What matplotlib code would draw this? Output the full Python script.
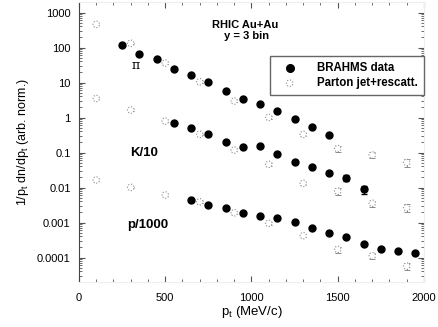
import matplotlib
matplotlib.use("Agg")
import matplotlib.pyplot as plt
from matplotlib.ticker import LogLocator, FixedLocator, NullFormatter, MultipleLocator
import numpy as np

plt.rcParams['font.family'] = ['Liberation Sans', 'DejaVu Sans']
plt.rcParams['mathtext.fontset'] = 'custom'
plt.rcParams['mathtext.rm'] = 'Liberation Sans'

# BRAHMS data (filled)
pt_pi_b = [250, 350, 450, 550, 650, 750, 850, 950, 1050, 1150, 1250, 1350, 1450]
pi_b = [115, 64, 47, 24, 16, 10.5, 5.8, 3.4, 2.4, 1.56, 0.92, 0.54, 0.31]

pt_k_b = [550, 650, 750, 850, 950, 1050, 1150, 1250, 1350, 1450, 1550, 1650]
k_b = [0.68, 0.49, 0.33, 0.20, 0.147, 0.156, 0.091, 0.055, 0.038, 0.0265, 0.019, 0.0089]
k_b_relerr = [0, 0, 0, 0, 0, 0, 0, 0, 0, 0.05, 0.2, 0.25]

pt_p_b = [650, 750, 850, 950, 1050, 1150, 1250, 1350, 1450, 1550, 1650, 1750, 1850, 1950]
p_b = [0.0044, 0.00316, 0.00255, 0.00183, 0.00153, 0.00132, 0.00101, 0.00068,
       0.0005, 0.00038, 0.00024, 0.000178, 0.000150, 0.000134]

# Parton jet + rescattering (open)
pt_m = [100, 300, 500, 700, 900, 1100, 1300, 1500, 1700, 1900]
pi_m = [460, 132, 36, 10.5, 2.96, 1.01, 0.33, 0.13, 0.085, 0.052]
k_m = [3.5, 1.64, 0.79, 0.33, 0.118, 0.046, 0.0132, 0.0079, 0.00355, 0.00265]
p_m = [0.0164, 0.0101, 0.0061, 0.0039, 0.0019, 0.00095, 0.00042, 0.000171, 0.000112, 0.000057]
m_relerr = [0.04, 0.04, 0.04, 0.05, 0.06, 0.08, 0.1, 0.2, 0.2, 0.25]

fig = plt.figure(figsize=(4.39, 3.27), dpi=100)
ax = fig.add_axes([79/439, 1-282/327, 345/439, 280/327])
ax.set_yscale('log')
ax.set_xlim(0, 2000)
ax.set_ylim(2e-5, 2000)

gray = '#8a8a8a'
for pts, vals in [(pt_m, pi_m), (pt_m, k_m), (pt_m, p_m)]:
    v = np.array(vals)
    e = v * np.array(m_relerr)
    ax.errorbar(pts, v, yerr=e, fmt='none', ecolor=gray, elinewidth=0.7,
                capsize=2, capthick=0.7, zorder=2)
    ax.scatter(pts, v, s=22, facecolors='white', edgecolors=gray,
               linewidths=0.8, linestyles=':', zorder=3)

ax.plot(pt_pi_b, pi_b, 'o', color='black', ms=5, zorder=4)
kb = np.array(k_b)
ax.errorbar(pt_k_b, kb, yerr=kb*np.array(k_b_relerr), fmt='o', color='black',
            ms=5, elinewidth=0.8, capsize=2, zorder=4)
ax.plot(pt_p_b, p_b, 'o', color='black', ms=5, zorder=4)

# legend handles
h1 = ax.scatter([], [], s=30, color='black')
h2 = ax.scatter([], [], s=22, facecolors='white', edgecolors=gray,
                linewidths=0.8, linestyles=':')
leg = ax.legend([h1, h2], ['BRAHMS data', 'Parton jet+rescatt.'],
                loc='upper right', bbox_to_anchor=(1.0, 0.807),
                borderaxespad=0, fancybox=False, framealpha=1,
                edgecolor='#666666', handletextpad=1.2, borderpad=0.5,
                handlelength=2.4, labelspacing=0.3,
                prop={'weight': 'bold', 'size': 8.3})
leg.get_frame().set_linewidth(1.0)

ax.text(0.482, 0.917, 'RHIC Au+Au', transform=ax.transAxes, ha='center',
        va='center', fontsize=8, fontweight='bold')
ax.text(0.485, 0.878, 'y = 3 bin', transform=ax.transAxes, ha='center',
        va='center', fontsize=8, fontweight='bold')
ax.text(330, 30, 'π', ha='center', va='center', fontsize=9,
        family=['DejaVu Serif'])
ax.text(380, 0.1, 'K/10', ha='center', va='center', fontsize=9.5,
        fontweight='bold')
ax.text(400, 0.00085, 'p/1000', ha='center', va='center', fontsize=9.5,
        fontweight='bold')

ax.set_xlabel(r'p$_\mathregular{t}$ (MeV/c)', fontsize=9.5, labelpad=1)
ax.set_ylabel(r'1/p$_\mathregular{t}$ dn/dp$_\mathregular{t}$ (arb. norm.)',
              fontsize=9, labelpad=4)

ax.xaxis.set_major_locator(MultipleLocator(500))
ax.xaxis.set_minor_locator(MultipleLocator(100))
ax.yaxis.set_major_locator(FixedLocator([1e-4, 1e-3, 1e-2, 1e-1, 1, 10, 100, 1000]))
ax.yaxis.set_minor_locator(LogLocator(base=10, subs=np.arange(2, 10), numticks=20))
ax.yaxis.set_minor_formatter(NullFormatter())
ax.set_yticklabels(['0.0001', '0.001', '0.01', '0.1', '1', '10', '100', '1000'])
ax.tick_params(which='both', direction='in', top=True, right=True,
               colors='#555555', labelcolor='black', labelsize=8)
ax.tick_params(which='major', length=4, width=0.8, pad=6)
ax.tick_params(which='minor', length=2.5, width=0.6)
ax.tick_params(axis='x', which='major', pad=8)

ax.spines['left'].set_color('#444444')
for s in ['top', 'right', 'bottom']:
    ax.spines[s].set_color('#eeeeee')

fig.savefig('out.png', dpi=100)
